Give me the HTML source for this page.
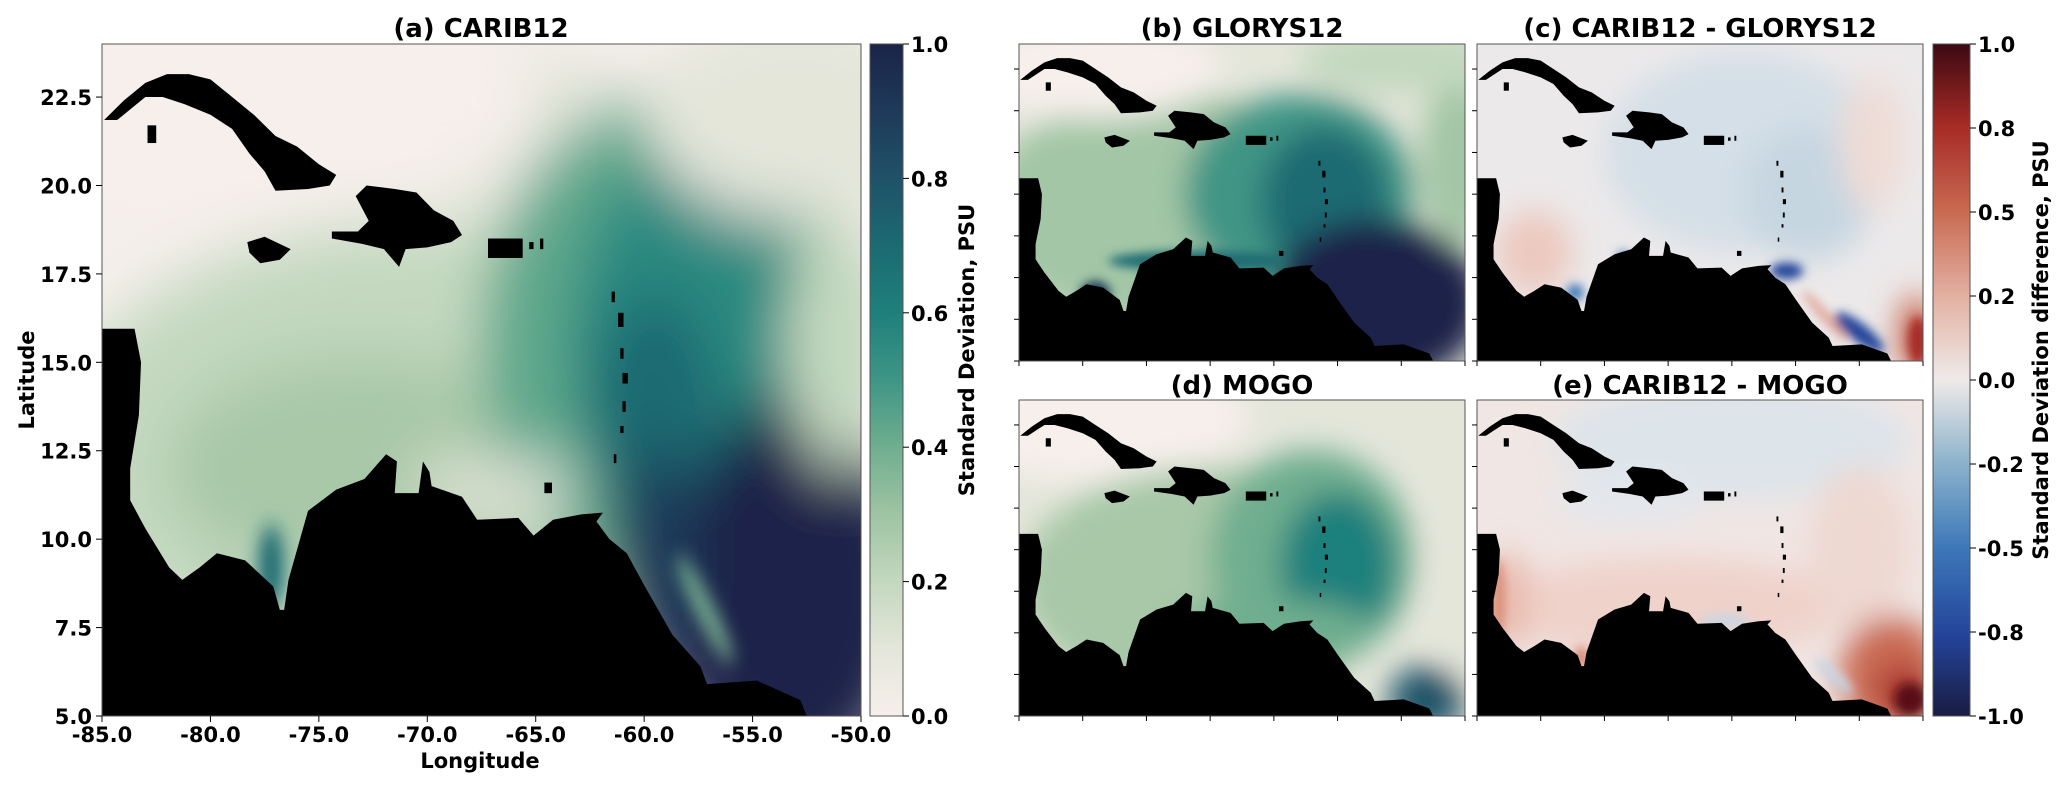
<!DOCTYPE html>
<html><head><meta charset="utf-8">
<style>
html,body{margin:0;padding:0;background:#fff;}
svg{display:block;}
text{font-family:"DejaVu Sans","Liberation Sans",sans-serif;font-weight:bold;fill:#000;}
</style></head>
<body>
<svg id="fig" width="2067" height="788" viewBox="0 0 2067 788" xmlns="http://www.w3.org/2000/svg">
<defs>
  <filter id="blur" filterUnits="userSpaceOnUse" x="-8" y="-8" width="51" height="35"><feGaussianBlur stdDeviation="1.2 0.9"/></filter>
  <filter id="blurS" filterUnits="userSpaceOnUse" x="-8" y="-8" width="51" height="35"><feGaussianBlur stdDeviation="0.4 0.3"/></filter>
  <linearGradient id="tempo" x1="0" y1="1" x2="0" y2="0">
    <stop offset="0" stop-color="#f6efeb"/><stop offset="0.1" stop-color="#e4e6da"/>
    <stop offset="0.2" stop-color="#c3d8bf"/><stop offset="0.3" stop-color="#9ec4a3"/>
    <stop offset="0.4" stop-color="#6fae8f"/><stop offset="0.5" stop-color="#3f9585"/>
    <stop offset="0.6" stop-color="#1e807b"/><stop offset="0.7" stop-color="#1c6a72"/>
    <stop offset="0.8" stop-color="#1f5268"/><stop offset="0.9" stop-color="#1e3a5a"/>
    <stop offset="1" stop-color="#1a2448"/>
  </linearGradient>
  <linearGradient id="balance" x1="0" y1="1" x2="0" y2="0">
    <stop offset="0" stop-color="#191c42"/><stop offset="0.12" stop-color="#24449a"/>
    <stop offset="0.25" stop-color="#3d78b8"/><stop offset="0.38" stop-color="#8fb4cc"/>
    <stop offset="0.5" stop-color="#efeae9"/><stop offset="0.62" stop-color="#e3b3a4"/>
    <stop offset="0.75" stop-color="#c96a52"/><stop offset="0.88" stop-color="#a52a25"/>
    <stop offset="1" stop-color="#3c0912"/>
  </linearGradient>
  <g id="land" fill="#000">
    <path d="M0.1,2.15 L1,1.6 L2,1.1 L3,0.85 L4,0.85 L5,1 L6,1.5 L7,2 L8,2.6 L9,2.9 L10,3.4 L10.8,3.7 L10.5,4 L9.5,4.1 L8,4.15 L7.5,3.6 L6.8,3.1 L6,2.4 L5,2 L3.8,1.7 L2.8,1.5 L2,1.5 L1.4,1.8 L0.7,2.15 Z"/>
    <rect x="2.1" y="2.3" width="0.4" height="0.5"/>
    <path d="M10.6,5.5 L12,5.65 L13,5.8 L13.7,6.3 L14,5.8 L15,5.75 L16.1,5.6 L16.6,5.4 L16.2,5 L15.3,4.7 L14.5,4.2 L13.5,4.1 L12.2,4 L11.7,4.3 L12.3,5 L11.8,5.3 L10.6,5.3 Z"/>
    <path d="M6.7,5.6 L7.5,5.45 L8.7,5.8 L8.2,6.1 L7.3,6.2 L6.8,5.9 Z"/>
    <rect x="17.8" y="5.5" width="1.6" height="0.55"/>
    <rect x="19.7" y="5.6" width="0.2" height="0.2"/><rect x="20.2" y="5.5" width="0.15" height="0.3"/>
    <rect x="23.5" y="7" width="0.15" height="0.3"/><rect x="23.8" y="7.6" width="0.25" height="0.4"/>
    <rect x="23.9" y="8.6" width="0.15" height="0.3"/><rect x="24" y="9.3" width="0.25" height="0.3"/>
    <rect x="24" y="10.1" width="0.15" height="0.3"/><rect x="23.9" y="10.8" width="0.15" height="0.2"/>
    <rect x="23.6" y="11.6" width="0.12" height="0.25"/>
    <rect x="20.4" y="12.4" width="0.35" height="0.3"/>
    <path d="M0,8.05 L1.5,8.05 L1.8,9 L1.7,10.5 L1.3,12 L1.3,12.9 L2,13.7 L3.1,14.8 L3.7,15.15 L4.5,14.8 L5.3,14.4 L6.6,14.6 L7.9,15.34 L8.2,16 L8.4,16 L8.6,15.15 L9.5,13.2 L10.8,12.6 L12.1,12.3 L13.1,11.6 L13.6,11.8 L13.5,12.7 L14.6,12.7 L14.8,11.8 L15.1,12.1 L15.2,12.5 L16.6,12.8 L17.3,13.45 L19.2,13.4 L19.9,13.9 L20.8,13.45 L22.1,13.3 L23.1,13.25 L22.8,13.5 L23.4,14 L24.2,14.4 L25,15.3 L26.3,16.7 L27.6,17.6 L27.9,18.1 L30.2,18 L32.2,18.55 L32.5,19 L0,19 Z"/>
  </g>
</defs>

<!-- Panel (a) -->
<text x="481" y="37" font-size="26" text-anchor="middle">(a) CARIB12</text>
<svg x="102" y="44" width="759" height="672" viewBox="0 0 35 19" preserveAspectRatio="none">
  <rect x="0" y="0" width="35" height="19" fill="#f5efeb"/>
  <g filter="url(#blur)">
    <ellipse cx="15" cy="11.5" rx="17" ry="6.5" fill="#c3d8bf"/>
    <ellipse cx="12" cy="12" rx="9" ry="3.2" fill="#a8c8a8"/>
    <ellipse cx="19" cy="2.5" rx="5" ry="2.5" fill="#e4e6da"/>
    <ellipse cx="26" cy="8.5" rx="8.5" ry="7" fill="#5fa88c"/>
    <ellipse cx="27" cy="8.5" rx="5.5" ry="5.5" fill="#2a8a80"/>
    <ellipse cx="25.5" cy="10.5" rx="3" ry="3.5" fill="#1c6a72"/>
    <ellipse cx="32" cy="15.5" rx="5.5" ry="5.5" fill="#1a2448"/>
    <ellipse cx="30" cy="17" rx="4" ry="3" fill="#1a2448"/>
    <ellipse cx="25.5" cy="14.5" rx="2" ry="3" fill="#1e3a5a"/>
    <ellipse cx="34" cy="8.5" rx="2.5" ry="3.5" fill="#c3d8bf"/>
    <ellipse cx="32" cy="2" rx="7" ry="3" fill="#e4e6da"/>
    <ellipse cx="8" cy="1.5" rx="12" ry="3.5" fill="#f6efeb"/>
    <ellipse cx="18" cy="12.6" rx="4" ry="0.8" fill="#e4e6da"/>
  </g>
  <g filter="url(#blurS)">
    <ellipse cx="7.8" cy="14.8" rx="0.6" ry="1.2" fill="#1c6a72"/>
    <ellipse cx="27.8" cy="16" rx="2.0" ry="0.35" transform="rotate(50 27.8 16)" fill="#7fb896"/>
  </g>
  <use href="#land"/>
</svg>
<rect x="102" y="44" width="759" height="672" fill="none" stroke="#555" stroke-width="1"/>
<text x="480" y="768" font-size="21" text-anchor="middle">Longitude</text>
<text transform="translate(34,380) rotate(-90)" font-size="21" text-anchor="middle">Latitude</text>
<g id="ticksA"></g>

<!-- Colorbar A -->
<rect x="870" y="44" width="33" height="672" fill="url(#tempo)" stroke="#555" stroke-width="1"/>
<g id="cbarAticks"></g>
<text transform="translate(974,350) rotate(-90)" font-size="21" text-anchor="middle">Standard Deviation, PSU</text>

<!-- Panel (b) -->
<text x="1242" y="37" font-size="26" text-anchor="middle">(b) GLORYS12</text>
<svg x="1019" y="44" width="446" height="317" viewBox="0 0 35 19" preserveAspectRatio="none">
  <rect x="0" y="0" width="35" height="19" fill="#e4e6da"/>
  <g filter="url(#blur)">
    <ellipse cx="12" cy="10" rx="15" ry="7" fill="#a3c6a6"/>
    <ellipse cx="22" cy="9" rx="9" ry="6" fill="#3f9585"/>
    <ellipse cx="24" cy="9.5" rx="5" ry="4.5" fill="#1c6a72"/>
    <ellipse cx="28" cy="15.5" rx="8.5" ry="5" fill="#1a2448"/>
    <ellipse cx="6" cy="1.5" rx="10" ry="3" fill="#f6efeb"/>
    <ellipse cx="34.5" cy="7" rx="3" ry="5" fill="#a3c6a6"/>
    <ellipse cx="30" cy="1" rx="8" ry="2" fill="#c3d8bf"/>
  </g>
  <g filter="url(#blurS)">
    <ellipse cx="14" cy="13" rx="7" ry="0.6" fill="#1c6a72"/>
    <ellipse cx="6" cy="15" rx="1.2" ry="0.8" fill="#1e3a5a"/>
  </g>
  <use href="#land"/>
</svg>
<rect x="1019" y="44" width="446" height="317" fill="none" stroke="#555"/>

<!-- Panel (c) -->
<text x="1700" y="37" font-size="26" text-anchor="middle">(c) CARIB12 - GLORYS12</text>
<svg x="1477" y="44" width="446" height="317" viewBox="0 0 35 19" preserveAspectRatio="none">
  <rect x="0" y="0" width="35" height="19" fill="#ece9ea"/>
  <g filter="url(#blur)">
    <ellipse cx="21" cy="6.5" rx="11" ry="6" fill="#d4dfe7"/>
    <ellipse cx="26" cy="9" rx="5" ry="4" fill="#c6d6e1"/>
    <ellipse cx="4.5" cy="12.5" rx="3" ry="2.5" fill="#ecc9bf"/>
    <ellipse cx="31" cy="6" rx="2.5" ry="4" fill="#eedcd6"/>
    <ellipse cx="34.5" cy="17.5" rx="1.5" ry="2.5" fill="#c96a52"/>
  </g>
  <g filter="url(#blurS)">
    <ellipse cx="24.3" cy="13.6" rx="1.3" ry="0.5" fill="#24449a"/>
    <ellipse cx="30" cy="17.3" rx="2.2" ry="0.6" transform="rotate(30 30 17.3)" fill="#24449a"/>
    <ellipse cx="34.6" cy="17.8" rx="0.8" ry="1.5" fill="#a52a25"/>
    <ellipse cx="27.3" cy="16.3" rx="2.3" ry="0.3" transform="rotate(40 27.3 16.3)" fill="#e0a090"/>
    <ellipse cx="7.7" cy="14.9" rx="0.7" ry="0.5" fill="#3d78b8"/>
    <ellipse cx="11.5" cy="12.8" rx="0.5" ry="0.4" fill="#3d78b8"/>
  </g>
  <use href="#land"/>
</svg>
<rect x="1477" y="44" width="446" height="317" fill="none" stroke="#555"/>

<!-- Panel (d) -->
<text x="1242" y="394" font-size="26" text-anchor="middle">(d) MOGO</text>
<svg x="1019" y="400" width="446" height="316" viewBox="0 0 35 19" preserveAspectRatio="none">
  <rect x="0" y="0" width="35" height="19" fill="#e4e6da"/>
  <g filter="url(#blur)">
    <ellipse cx="6" cy="1" rx="12" ry="4" fill="#f6efeb"/>
    <ellipse cx="15" cy="11" rx="15" ry="7" fill="#a8c8a8"/>
    <ellipse cx="23" cy="9.5" rx="8" ry="6.5" fill="#6fae8f"/>
    <ellipse cx="25" cy="10" rx="4.5" ry="4.5" fill="#1e807b"/>
    <ellipse cx="35" cy="9" rx="2.5" ry="8" fill="#e4e6da"/>
    <ellipse cx="32" cy="18" rx="3" ry="2" fill="#1f5268"/>
    <ellipse cx="20" cy="14" rx="8" ry="2" fill="#6fae8f"/>
  </g>
  <use href="#land"/>
</svg>
<rect x="1019" y="400" width="446" height="316" fill="none" stroke="#555"/>

<!-- Panel (e) -->
<text x="1700" y="394" font-size="26" text-anchor="middle">(e) CARIB12 - MOGO</text>
<svg x="1477" y="400" width="446" height="316" viewBox="0 0 35 19" preserveAspectRatio="none">
  <rect x="0" y="0" width="35" height="19" fill="#f0e6e4"/>
  <g filter="url(#blur)">
    <ellipse cx="20" cy="2.5" rx="14" ry="3.5" fill="#dde4ea"/>
    <ellipse cx="12" cy="6" rx="6" ry="1.5" fill="#e3e7ec"/>
    <ellipse cx="15" cy="12.5" rx="14" ry="3" fill="#efd2ca"/>
    <ellipse cx="2.5" cy="12" rx="1.5" ry="3" fill="#e8b8aa"/>
    <ellipse cx="30" cy="9" rx="4" ry="5" fill="#eed8d1"/>
    <ellipse cx="32.5" cy="16.5" rx="4" ry="3.5" fill="#c96a52"/>
    <ellipse cx="33.5" cy="17.5" rx="2" ry="1.5" fill="#a52a25"/>
  </g>
  <g filter="url(#blurS)">
    <ellipse cx="34" cy="18" rx="1.3" ry="1" fill="#5a0f18"/>
    <ellipse cx="28" cy="16.6" rx="1.8" ry="0.4" transform="rotate(35 28 16.6)" fill="#c8d6e2"/>
    <ellipse cx="19.5" cy="13.3" rx="2" ry="0.4" fill="#c8d6e2"/>
    <ellipse cx="8.2" cy="15.5" rx="0.6" ry="0.7" fill="#d88a74"/>
    <ellipse cx="1.7" cy="12" rx="0.5" ry="2.5" fill="#d88a74"/>
  </g>
  <use href="#land"/>
</svg>
<rect x="1477" y="400" width="446" height="316" fill="none" stroke="#555"/>

<!-- Colorbar B -->
<rect x="1933" y="44" width="37" height="672" fill="url(#balance)" stroke="#555" stroke-width="1"/>
<g id="cbarBticks"></g>
<text transform="translate(2048,350) rotate(-90)" font-size="21" text-anchor="middle">Standard Deviation difference, PSU</text>
<g id="subTicks"></g>
</svg>

<script>
const lonTicks = [-85, -80, -75, -70, -65, -60, -55, -50];
const latTicks = [5, 7.5, 10, 12.5, 15, 17.5, 20, 22.5];
const stdTicks = [0, 0.2, 0.4, 0.6, 0.8, 1.0];
const diffTickLabels = ["-1.0", "-0.8", "-0.5", "-0.2", "0.0", "0.2", "0.5", "0.8", "1.0"];
const lonMin = -85, lonMax = -50, latMin = 5, latMax = 24;
const NS = "http://www.w3.org/2000/svg";

function lonX(lon, x0, w) { return x0 + (lon - lonMin) / (lonMax - lonMin) * w; }
function latY(lat, y0, h) { return y0 + h - (lat - latMin) / (latMax - latMin) * h; }
function mk(tag, attrs, parent) {
  const e = document.createElementNS(NS, tag);
  for (const k in attrs) e.setAttribute(k, attrs[k]);
  parent.appendChild(e);
  return e;
}

const gA = document.getElementById('ticksA');
lonTicks.forEach(lon => {
  const x = lonX(lon, 102, 759);
  const t = mk('line', {x1: x, x2: x, y1: 716, y2: 722, stroke: '#000', 'stroke-width': 1}, gA);
  
  
  const l = mk('text', {x: x, y: 742, 'font-size': 21, 'text-anchor': 'middle'}, gA);
  l.textContent = lon.toFixed(1);
  
  
});
latTicks.forEach(lat => {
  const y = latY(lat, 44, 672);
  const t = mk('line', {x1: 96, x2: 102, y1: y, y2: y, stroke: '#000', 'stroke-width': 1}, gA);
  
  
  const l = mk('text', {x: 92, y: y + 8, 'font-size': 21, 'text-anchor': 'end'}, gA);
  l.textContent = lat.toFixed(1);
  
  
});

const gCA = document.getElementById('cbarAticks');
stdTicks.forEach(v => {
  const y = 716 - v * 672;
  const t = mk('line', {x1: 903, x2: 909, y1: y, y2: y, stroke: '#000'}, gCA);
  
  
  const l = mk('text', {x: 911, y: y + 8, 'font-size': 21}, gCA);
  l.textContent = v.toFixed(1);
  
  
});

const gCB = document.getElementById('cbarBticks');
diffTickLabels.forEach((s, i) => {
  const y = 716 - i / (diffTickLabels.length - 1) * 672;
  const t = mk('line', {x1: 1970, x2: 1976, y1: y, y2: y, stroke: '#000'}, gCB);
  
  
  const l = mk('text', {x: 1978, y: y + 8, 'font-size': 21}, gCB);
  l.textContent = s;
  
  
});

const gS = document.getElementById('subTicks');
const subPanels = [[1019, 44, 446, 317], [1477, 44, 446, 317], [1019, 400, 446, 316], [1477, 400, 446, 316]];
subPanels.forEach(p => {
  lonTicks.forEach(lon => {
    const x = lonX(lon, p[0], p[2]);
    const t = mk('line', {x1: x, x2: x, y1: p[1] + p[3], y2: p[1] + p[3] + 5, stroke: '#000'}, gS);
    
    
  });
  latTicks.forEach(lat => {
    const y = latY(lat, p[1], p[3]);
    const t = mk('line', {x1: p[0] - 5, x2: p[0], y1: y, y2: y, stroke: '#000'}, gS);
    
    
  });
});
</script>
</body></html>
